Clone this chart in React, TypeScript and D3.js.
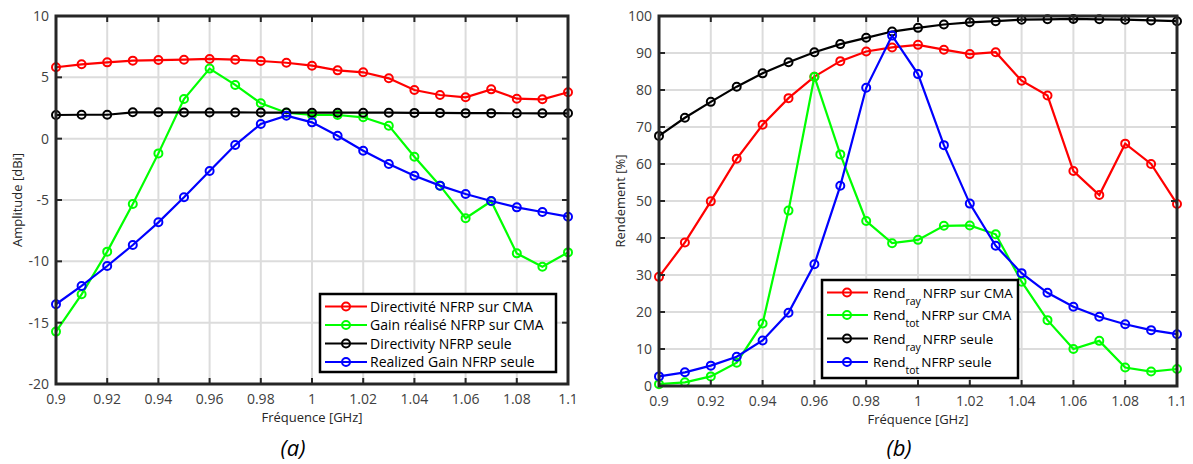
import React from "react";
import * as d3 from "d3";

const freq = [0.9, 0.91, 0.92, 0.93, 0.94, 0.95, 0.96, 0.97, 0.98, 0.99, 1.0, 1.01, 1.02, 1.03, 1.04, 1.05, 1.06, 1.07, 1.08, 1.09, 1.1];
const xTicks = [0.9, 0.92, 0.94, 0.96, 0.98, 1.0, 1.02, 1.04, 1.06, 1.08, 1.1];

// Panel (a) — amplitude [dBi]
const dirCMA = [5.82, 6.06, 6.22, 6.36, 6.41, 6.44, 6.5, 6.44, 6.33, 6.19, 5.95, 5.57, 5.41, 4.92, 3.97, 3.56, 3.37, 4.02, 3.26, 3.21, 3.78];
const gainCMA = [-15.73, -12.69, -9.21, -5.33, -1.2, 3.23, 5.71, 4.38, 2.88, 2.12, 1.93, 1.93, 1.74, 1.06, -1.47, -3.83, -6.49, -5.1, -9.35, -10.44, -9.27];
const dirSeule = [1.93, 1.95, 1.95, 2.15, 2.15, 2.14, 2.14, 2.14, 2.13, 2.13, 2.12, 2.12, 2.12, 2.12, 2.1, 2.1, 2.08, 2.08, 2.07, 2.07, 2.07];
const gainSeule = [-13.5, -12.01, -10.38, -8.67, -6.82, -4.78, -2.64, -0.52, 1.2, 1.87, 1.33, 0.24, -0.98, -2.06, -3.02, -3.83, -4.51, -5.08, -5.6, -5.98, -6.36];
const yTicksA = [-20, -15, -10, -5, 0, 5, 10];

// Panel (b) — rendement [%]
const rayCMA = [29.5, 38.8, 49.9, 61.4, 70.6, 77.8, 83.6, 87.8, 90.4, 91.5, 92.2, 90.9, 89.7, 90.2, 82.5, 78.5, 58.1, 51.6, 65.5, 60.0, 49.2];
const totCMA = [0.5, 1.0, 2.6, 6.3, 16.9, 47.4, 83.6, 62.6, 44.6, 38.6, 39.5, 43.3, 43.4, 41.0, 28.2, 17.8, 10.0, 12.2, 5.0, 3.9, 4.6];
const raySeule = [67.6, 72.5, 76.8, 80.9, 84.5, 87.5, 90.2, 92.4, 94.1, 95.8, 96.8, 97.7, 98.3, 98.6, 99.0, 99.1, 99.2, 99.1, 99.0, 98.8, 98.6];
const totSeule = [2.6, 3.7, 5.5, 7.9, 12.3, 19.8, 32.9, 54.1, 80.6, 94.7, 84.3, 65.1, 49.3, 37.9, 30.5, 25.2, 21.4, 18.7, 16.7, 15.1, 14.0];
const yTicksB = [0, 10, 20, 30, 40, 50, 60, 70, 80, 90, 100];

const legendA = ["Directivité NFRP sur CMA", "Gain réalisé NFRP sur CMA", "Directivity NFRP seule", "Realized Gain NFRP seule"];
const legendBsub = ["ray", "tot", "ray", "tot"];
const legendBtail = ["NFRP sur CMA", "NFRP sur CMA", "NFRP seule", "NFRP seule"];
const colors = ["#ff0000", "#00ff00", "#000000", "#0000ff"];

const FONT = "'Open Sans', sans-serif";
const AXIS = "#262626";
const TICKTXT = "#404040";

type PanelProps = {
  x0: number; x1: number; y0: number; y1: number;
  yDomain: [number, number];
  yTicks: number[];
  series: number[][];
  yLabel: string;
  caption: string;
  legend: React.ReactNode;
};

function fmtX(v: number) {
  return d3.format("~g")(+v.toFixed(2));
}

function Panel(p: PanelProps) {
  const x = d3.scaleLinear().domain([0.9, 1.1]).range([p.x0, p.x1]);
  const y = d3.scaleLinear().domain(p.yDomain).range([p.y1, p.y0]);
  const line = d3.line<number>().x((_, i) => x(freq[i])).y((d) => y(d));
  const tl = 6;
  return (
    <g>
      {xTicks.map((t) => (
        <line key={"gx" + t} x1={x(t)} x2={x(t)} y1={p.y0} y2={p.y1} stroke="#dcdcdc" strokeWidth={2} />
      ))}
      {p.yTicks.map((t) => (
        <line key={"gy" + t} x1={p.x0} x2={p.x1} y1={y(t)} y2={y(t)} stroke="#dcdcdc" strokeWidth={2} />
      ))}
      {p.series.map((s, k) => (
        <g key={"s" + k}>
          <path d={line(s) || ""} fill="none" stroke={colors[k]} strokeWidth={2.2} />
          {s.map((v, i) => (
            <circle key={i} cx={x(freq[i])} cy={y(v)} r={4} fill="none" stroke={colors[k]} strokeWidth={2} />
          ))}
        </g>
      ))}
      {xTicks.map((t) => (
        <g key={"tx" + t}>
          <line x1={x(t)} x2={x(t)} y1={p.y1} y2={p.y1 - tl} stroke={AXIS} strokeWidth={2} />
          <line x1={x(t)} x2={x(t)} y1={p.y0} y2={p.y0 + tl} stroke={AXIS} strokeWidth={2} />
          <text x={x(t)} y={p.y1 + 20} textAnchor="middle" fontSize={14} fill={TICKTXT} fontFamily={FONT}>{fmtX(t)}</text>
        </g>
      ))}
      {p.yTicks.map((t) => (
        <g key={"ty" + t}>
          <line x1={p.x0} x2={p.x0 + tl} y1={y(t)} y2={y(t)} stroke={AXIS} strokeWidth={2} />
          <line x1={p.x1} x2={p.x1 - tl} y1={y(t)} y2={y(t)} stroke={AXIS} strokeWidth={2} />
          <text x={p.x0 - 7} y={y(t) + 5} textAnchor="end" fontSize={14} fill={TICKTXT} fontFamily={FONT}>{t}</text>
        </g>
      ))}
      <rect x={p.x0} y={p.y0} width={p.x1 - p.x0} height={p.y1 - p.y0} fill="none" stroke={AXIS} strokeWidth={3} />
      <text x={(p.x0 + p.x1) / 2} y={p.y1 + 38} textAnchor="middle" fontSize={13} fill="#262626" fontFamily={FONT}>Fréquence [GHz]</text>
      <text transform={`translate(${p.x0 - 34},${(p.y0 + p.y1) / 2}) rotate(-90)`} textAnchor="middle" fontSize={13} fill="#262626" fontFamily={FONT}>{p.yLabel}</text>
      <text x={(p.x0 + p.x1) / 2 - 19} y={456} textAnchor="middle" fontSize={22} fontStyle="italic" fill="#000" fontFamily={FONT}>{p.caption}</text>
      {p.legend}
    </g>
  );
}

function LegendA() {
  const bx = 320, by = 294, bw = 236, bh = 78;
  const rows = [306.5, 325, 343.5, 362];
  return (
    <g>
      <rect x={bx} y={by} width={bw} height={bh} fill="#fff" stroke="#000" strokeWidth={2.5} />
      {legendA.map((t, k) => (
        <g key={k}>
          <line x1={325} x2={367} y1={rows[k]} y2={rows[k]} stroke={colors[k]} strokeWidth={2.2} />
          <circle cx={346} cy={rows[k]} r={4} fill="none" stroke={colors[k]} strokeWidth={2} />
          <text x={370} y={rows[k] + 5} fontSize={14} fill="#000" fontFamily={FONT}>{t}</text>
        </g>
      ))}
    </g>
  );
}

function LegendB() {
  const bx = 822, by = 280, bw = 196, bh = 98;
  const rows = [292.5, 315, 338.5, 362];
  return (
    <g>
      <rect x={bx} y={by} width={bw} height={bh} fill="#fff" stroke="#000" strokeWidth={2.5} />
      {legendBsub.map((s, k) => (
        <g key={k}>
          <line x1={827} x2={868} y1={rows[k]} y2={rows[k]} stroke={colors[k]} strokeWidth={2.2} />
          <circle cx={847} cy={rows[k]} r={4} fill="none" stroke={colors[k]} strokeWidth={2} />
          <text x={873} y={rows[k] + 5} fontSize={13.5} fill="#000" fontFamily={FONT}>
            Rend
            <tspan fontSize={10.5} dy={7}>{s}</tspan>
            <tspan dy={-7} dx={2}>{legendBtail[k]}</tspan>
          </text>
        </g>
      ))}
    </g>
  );
}

export default function App() {
  return (
    <svg width={1193} height={464} style={{ position: "absolute", left: 0, top: 0, background: "#fff" }}>
      <rect width={1193} height={464} fill="#fff" />
      <Panel x0={56} x1={568} y0={16} y1={384} yDomain={[-20, 10]} yTicks={yTicksA}
        series={[dirCMA, gainCMA, dirSeule, gainSeule]} yLabel="Amplitude [dBi]" caption="(a)" legend={<LegendA />} />
      <Panel x0={659} x1={1177} y0={16} y1={386} yDomain={[0, 100]} yTicks={yTicksB}
        series={[rayCMA, totCMA, raySeule, totSeule]} yLabel="Rendement [%]" caption="(b)" legend={<LegendB />} />
    </svg>
  );
}
